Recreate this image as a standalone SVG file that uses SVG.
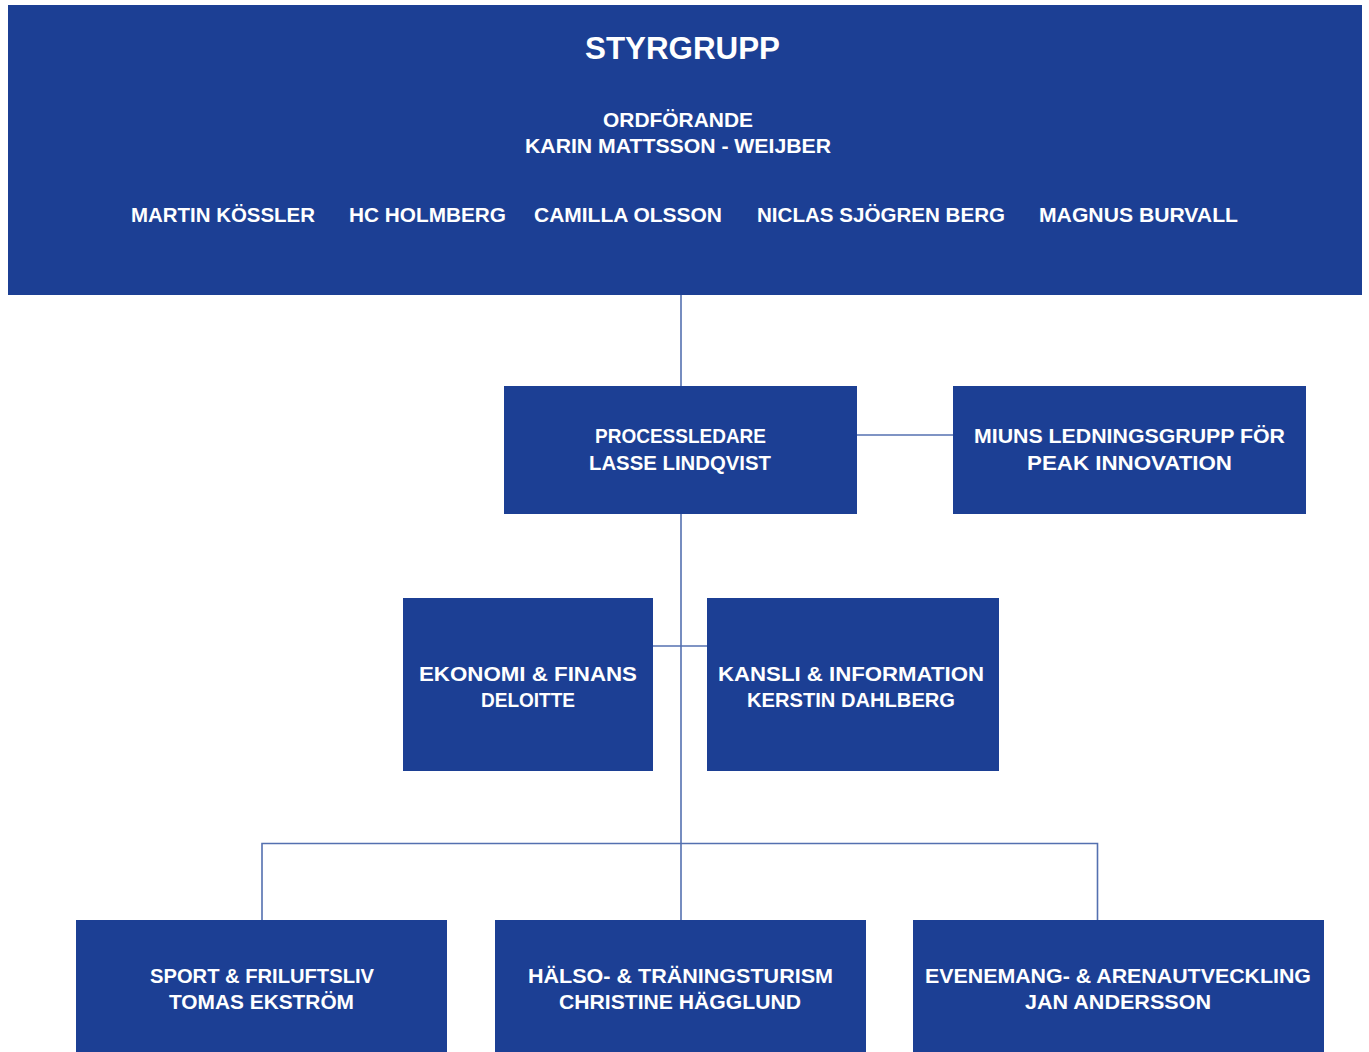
<svg xmlns="http://www.w3.org/2000/svg" width="1369" height="1052" viewBox="0 0 1369 1052">
<style>
.box{fill:#1c3f94}
.t{fill:#ffffff;font-family:"Liberation Sans",Arial,sans-serif;font-weight:bold;font-size:20.5px;text-anchor:middle}
.title{font-size:31.5px}
.ln{stroke:#5470b0;stroke-width:1.6;fill:none}
</style>
<rect width="1369" height="1052" fill="#ffffff"/>
<g id="connectors">
<line class="ln" x1="681" y1="295" x2="681" y2="386"/>
<line class="ln" x1="857" y1="435" x2="953" y2="435"/>
<line class="ln" x1="681" y1="514" x2="681" y2="920"/>
<line class="ln" x1="653" y1="646" x2="707" y2="646"/>
<polyline class="ln" points="262,920 262,843.5 1097.5,843.5 1097.5,920"/>
</g>
<g id="styrgrupp">
<rect class="box" x="8" y="5" width="1354" height="290"/>
<text class="t title" x="682.5" y="59" textLength="195" lengthAdjust="spacingAndGlyphs">STYRGRUPP</text>
<text class="t" x="678" y="127" textLength="150" lengthAdjust="spacingAndGlyphs">ORDFÖRANDE</text>
<text class="t" x="678" y="153" textLength="306" lengthAdjust="spacingAndGlyphs">KARIN MATTSSON - WEIJBER</text>
<text class="t" x="223" y="222" textLength="184" lengthAdjust="spacingAndGlyphs">MARTIN KÖSSLER</text>
<text class="t" x="427.5" y="222" textLength="157" lengthAdjust="spacingAndGlyphs">HC HOLMBERG</text>
<text class="t" x="628" y="222" textLength="188" lengthAdjust="spacingAndGlyphs">CAMILLA OLSSON</text>
<text class="t" x="881" y="222" textLength="248" lengthAdjust="spacingAndGlyphs">NICLAS SJÖGREN BERG</text>
<text class="t" x="1138.5" y="222" textLength="199" lengthAdjust="spacingAndGlyphs">MAGNUS BURVALL</text>
</g>
<g id="processledare">
<rect class="box" x="504" y="386" width="353" height="128"/>
<text class="t" x="680.5" y="443" textLength="171" lengthAdjust="spacingAndGlyphs">PROCESSLEDARE</text>
<text class="t" x="680" y="470" textLength="182" lengthAdjust="spacingAndGlyphs">LASSE LINDQVIST</text>
</g>
<g id="miuns">
<rect class="box" x="953" y="386" width="353" height="128"/>
<text class="t" x="1129.5" y="443" textLength="311" lengthAdjust="spacingAndGlyphs">MIUNS LEDNINGSGRUPP FÖR</text>
<text class="t" x="1129.5" y="470" textLength="205" lengthAdjust="spacingAndGlyphs">PEAK INNOVATION</text>
</g>
<g id="ekonomi">
<rect class="box" x="403" y="598" width="250" height="173"/>
<text class="t" x="528" y="681" textLength="218" lengthAdjust="spacingAndGlyphs">EKONOMI &amp; FINANS</text>
<text class="t" x="528" y="707" textLength="94" lengthAdjust="spacingAndGlyphs">DELOITTE</text>
</g>
<g id="kansli">
<rect class="box" x="707" y="598" width="292" height="173"/>
<text class="t" x="851" y="681" textLength="266" lengthAdjust="spacingAndGlyphs">KANSLI &amp; INFORMATION</text>
<text class="t" x="851" y="707" textLength="208" lengthAdjust="spacingAndGlyphs">KERSTIN DAHLBERG</text>
</g>
<g id="sport">
<rect class="box" x="76" y="920" width="371" height="132"/>
<text class="t" x="262" y="983" textLength="224" lengthAdjust="spacingAndGlyphs">SPORT &amp; FRILUFTSLIV</text>
<text class="t" x="261.5" y="1009" textLength="185" lengthAdjust="spacingAndGlyphs">TOMAS EKSTRÖM</text>
</g>
<g id="halso">
<rect class="box" x="495" y="920" width="371" height="132"/>
<text class="t" x="680.5" y="983" textLength="305" lengthAdjust="spacingAndGlyphs">HÄLSO- &amp; TRÄNINGSTURISM</text>
<text class="t" x="680" y="1009" textLength="242" lengthAdjust="spacingAndGlyphs">CHRISTINE HÄGGLUND</text>
</g>
<g id="evenemang">
<rect class="box" x="913" y="920" width="411" height="132"/>
<text class="t" x="1118" y="983" textLength="386" lengthAdjust="spacingAndGlyphs">EVENEMANG- &amp; ARENAUTVECKLING</text>
<text class="t" x="1118" y="1009" textLength="186" lengthAdjust="spacingAndGlyphs">JAN ANDERSSON</text>
</g>
</svg>
